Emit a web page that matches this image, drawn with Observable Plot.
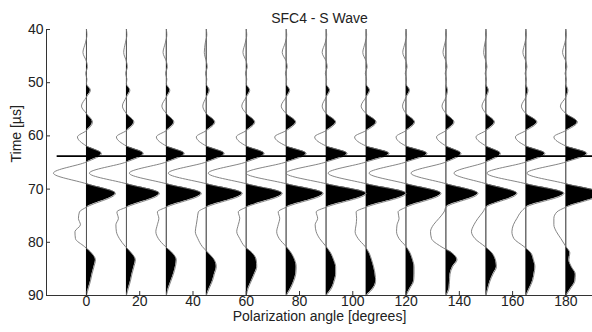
<!DOCTYPE html>
<html>
<head>
<meta charset="utf-8">
<script src="https://cdn.jsdelivr.net/npm/d3@7"></script>
<script src="https://cdn.jsdelivr.net/npm/@observablehq/plot@0.6"></script>
<style>
  html, body { margin: 0; padding: 0; background: #fff; }
  #chart { width: 592px; height: 332px; }
</style>
</head>
<body>
<div id="chart"></div>
<script>
// ---- text ----
const chartTitle = "SFC4 - S Wave";
const xAxisLabel = "Polarization angle [degrees]";
const yAxisLabel = "Time [µs]";

// ---- ticks / categories ----
const angles = [0, 15, 30, 45, 60, 75, 90, 105, 120, 135, 150, 165, 180];
const xTicks = [0, 20, 40, 60, 80, 100, 120, 140, 160, 180];
const yTicks = [40, 50, 60, 70, 80, 90];
const markerTime = 63.8;

// ---- sample times (µs) shared by every trace ----
const times = [40, 41, 42.5, 44.3, 46, 47, 48.3, 49.3,
  50.2, 51.4, 52.7, 54.4, 55.8, 57.4, 59, 60.2, 61.9, 63.3, 64.9, 67, 69, 70.8,
  73.4, 74.3, 75.5, 76.7, 78, 79.3, 80.8, 82, 83.3, 84.6, 86, 87.3, 88.6, 90];

// ---- trace amplitudes (display units) ----
const trace000 = [0, 0.5, -1, -3.5, 0, 1, -0.8, 0.5,  0, 4, 0, -5, 0, 6, 0, -9, 0, 15, 0, -33, 0, 29,  0, -7, -8, -6, -11.5, -11, -2, 5, 9, 7.5, 5.5, 4, 2, 0];
const trace015 = [0, 0.5, -1, -2.7, 0, 1, -0.8, 0.5,  0, 3.5, 0, -4, 0, 7.5, 0, -10, 0, 17, 0, -37, 0, 33,  0, -9.5, -8, -10.5, -10, -7, -1, 5, 9, 7.5, 5.5, 4, 2, 0];
const trace030 = [0, 0.5, -1, -3.3, 0, 1, -0.8, 0.5,  0, 3.5, 0, -4.5, 0, 7.5, 0, -10, 0, 18, 0, -37, 0, 35,  0, -9, -7.5, -9, -10.5, -8, -1, 6, 10, 9, 7, 4.5, 2, 0];
const trace045 = [0, 0.5, -1, -2, 0, 1, -0.8, 0.5,  0, 3, 0, -3.5, 0, 8.5, 0, -10, 0, 18, 0, -38, 0, 36,  0, -8, -9, -10, -11, -8.5, -4, 2, 8, 10, 8, 6, 3, 0];
const trace060 = [0, 0.5, -1, -3.3, 0, 1, -0.8, 0.5,  0, 3.5, 0, -4.5, 0, 8.5, 0, -10, 0, 18, 0, -38, 0, 36,  0, -8, -6.5, -8, -9.5, -6.5, -1.5, 6, 10, 10.5, 8, 5, 2, 0];
const trace075 = [0, 0.5, -1, -4, 0, 1, -0.8, 0.5,  0, 3.5, 0, -5, 0, 9.5, 0, -11.5, 0, 20, 0, -40, 0, 37,  0, -8, -6.5, -8, -9.5, -7, 0, 5, 8.5, 10, 9.5, 7.5, 4.5, 0];
const trace090 = [0, 0.5, -1, -4, 0, 1, -0.8, 0.5,  0, 3.5, 0, -4, 0, 9.5, 0, -11.5, 0, 21, 0, -40, 0, 40,  0, -10, -8.5, -11, -10, -6.5, 0, 4.5, 7.5, 9.5, 9.5, 8, 5.5, 0];
const trace105 = [0, 0.5, -1, -3.3, 0, 1, -0.8, 0.5,  0, 3.5, 0, -5, 0, 10, 0, -11.5, 0, 23, 0, -38, 0, 40,  0, -10, -9.5, -10, -11, -8, -1, 3, 5.5, 7.5, 9, 9.5, 7, 0];
const trace120 = [0, 0.5, -1, -3.3, 0, 1, -0.8, 0.5,  0, 3.5, 0, -3.5, 0, 8.5, 0, -10, 0, 21, 0, -37, 0, 35,  0, -8, -7, -9, -9.5, -7, 0, 4, 6.5, 8, 8, 7.5, 4, 0];
const trace135 = [0, 0.5, -1, -3, 0, 1, -0.8, 0.5,  0, 1.5, 0, -4, 0, 8, 0, -9.5, 0, 15, 0, -35, 0, 32,  0, -2, -7, -12.5, -15.5, -14.5, -5, 6, 11, 6.5, 4, 3.5, 3, 0];
const trace150 = [0, 0.5, -1, -2.3, 0, 1, -0.8, 0.5,  0, 2.5, 0, -4, 0, 8.5, 0, -10, 0, 14.5, 0, -32, 0, 31,  0, -3, -8, -12, -14.5, -11, -1, 6, 9.5, 10.5, 7, 4, 2, 0];
const trace165 = [0, 0.5, -1, -3, 0, 1, -0.8, 0.5,  0, 2, 0, -4.5, 0, 11, 0, -10.5, 0, 19, 0, -39, 0, 38,  0, -5, -9, -12.5, -14, -12, -2, 5, 7.5, 9, 8, 6.5, 3.5, 0];
const trace180 = [0, 0.5, -1, -3.3, 0, 1, -0.8, 0.5,  0, 2, 0, -5.5, 0, 11.5, 0, -12, 0, 21, 0, -39, 0, 36,  0, -9, -12, -12, -9.5, -5, 0, 4, 3, 5.5, 9.5, 9, 5, 0];

const traces = [trace000, trace015, trace030, trace045, trace060, trace075, trace090,
                trace105, trace120, trace135, trace150, trace165, trace180];

// display amplitude units -> degrees of horizontal offset
const gain = 205 / 546;

const rowsByTrace = traces.map((amps, i) =>
  amps.map((a, j) => ({angle: angles[i], t: times[j], amp: a, x: angles[i] + a * gain})));
const allRows = rowsByTrace.flat();

const ink = "#222";
const font = "'Liberation Sans', Arial, Helvetica, sans-serif";

const marks = [];
// trace baselines
marks.push(Plot.ruleX(angles, {x: d => d, y1: 40, y2: 90, stroke: "#4a4a4a", strokeWidth: 1}));
// filled positive lobes (clipped right of baseline after render)
rowsByTrace.forEach(rows => {
  marks.push(Plot.areaX(rows, {y: "t", x1: "angle", x2: "x", curve: "monotone-y", fill: "black"}));
});
// wiggle lines
marks.push(Plot.line(allRows, {x: "x", y: "t", z: "angle", curve: "monotone-y", stroke: "#777", strokeWidth: 0.9}));
// horizontal marker
marks.push(Plot.ruleY([markerTime], {x1: -11, x2: 195, stroke: "black", strokeWidth: 1.6}));
// axes lines
marks.push(Plot.ruleX([-15], {stroke: "#333", strokeWidth: 1}));
marks.push(Plot.ruleY([90], {stroke: "#333", strokeWidth: 1}));
// inward ticks
marks.push(Plot.tickX(xTicks, {x: d => d, insetTop: 262, stroke: "#333"}));
marks.push(Plot.tickY(yTicks, {y: d => d, insetRight: 542, stroke: "#333"}));
// tick labels
marks.push(Plot.text(xTicks, {x: d => d, text: d => String(d), frameAnchor: "bottom", dy: 10, fontSize: 14, fill: ink}));
marks.push(Plot.text(yTicks, {y: d => d, text: d => String(d), frameAnchor: "left", dx: -3, textAnchor: "end", fontSize: 14, fill: ink}));
// titles
marks.push(Plot.text([chartTitle], {text: d => d, frameAnchor: "top", dy: -16, fontSize: 14, fill: ink}));
marks.push(Plot.text([xAxisLabel], {text: d => d, frameAnchor: "bottom", dy: 25.5, fontSize: 14, fill: ink}));
marks.push(Plot.text([yAxisLabel], {text: d => d, frameAnchor: "left", dx: -30, rotate: -90, fontSize: 14, fill: ink}));

const svg = Plot.plot({
  width: 592,
  height: 332,
  marginTop: 29,
  marginBottom: 37,
  marginLeft: 46,
  marginRight: 0,
  style: {fontFamily: font, fontSize: "14px", background: "white", color: ink, overflow: "hidden"},
  x: {domain: [-15, 190], axis: null},
  y: {domain: [40, 90], reverse: true, axis: null},
  marks
});

// keep only the positive (right-hand) side of each filled trace
(function clipFills() {
  const xs = svg.scale("x");
  const toPx = xs.apply ? (v => xs.apply(v)) : d3.scaleLinear(xs.domain, xs.range);
  const ns = "http://www.w3.org/2000/svg";
  const defs = document.createElementNS(ns, "defs");
  svg.insertBefore(defs, svg.firstChild);
  const groups = svg.querySelectorAll('g[aria-label="area"]');
  groups.forEach((g, i) => {
    const cp = document.createElementNS(ns, "clipPath");
    const id = "fillclip-" + i;
    cp.setAttribute("id", id);
    const r = document.createElementNS(ns, "rect");
    r.setAttribute("x", toPx(angles[i]));
    r.setAttribute("y", 0);
    r.setAttribute("width", 1000);
    r.setAttribute("height", 1000);
    cp.appendChild(r);
    defs.appendChild(cp);
    g.setAttribute("clip-path", `url(#${id})`);
  });
})();

document.getElementById("chart").appendChild(svg);
</script>
</body>
</html>
